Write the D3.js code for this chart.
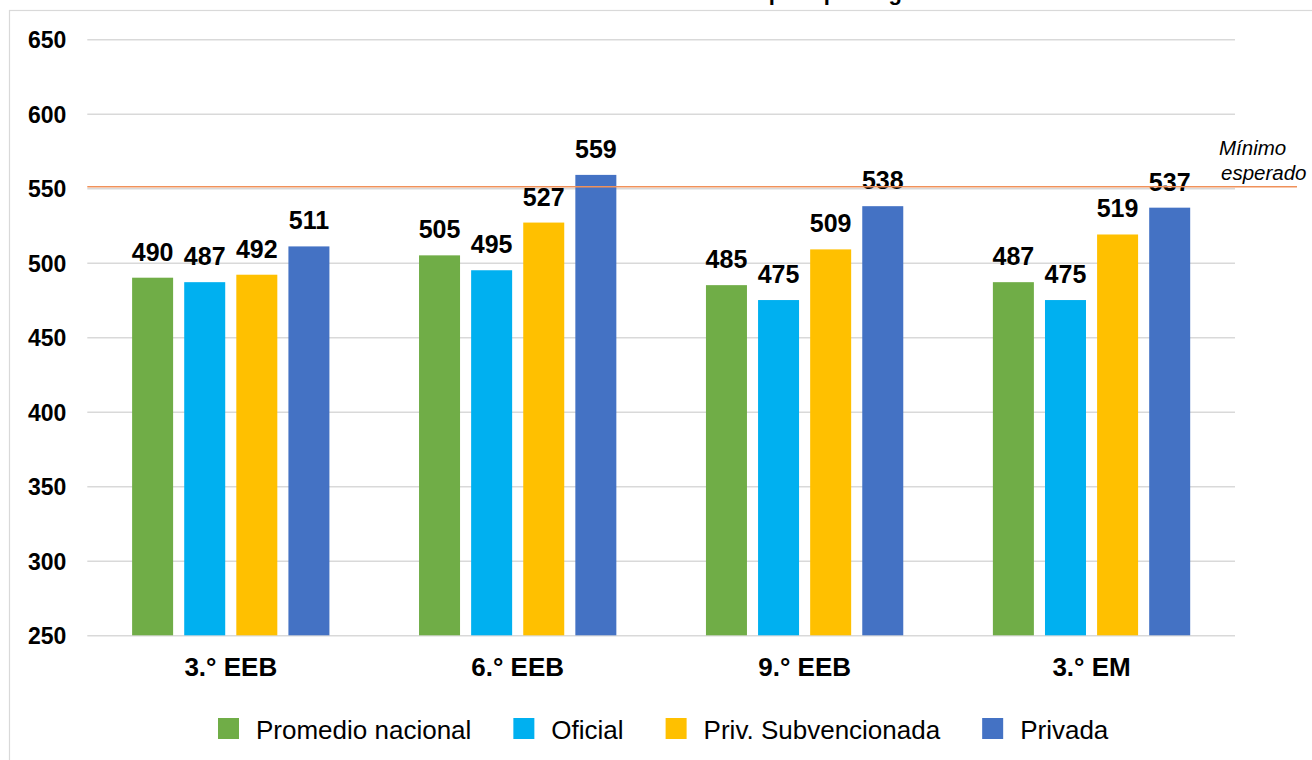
<!DOCTYPE html>
<html><head><meta charset="utf-8">
<script src="https://cdn.jsdelivr.net/npm/d3@7"></script>
<style>html,body{margin:0;padding:0;background:#fff;}svg{display:block;font-family:Arial,"Liberation Sans",sans-serif;}</style>
</head><body>
<svg id="chart" width="1312" height="760"></svg>
<script>
const title = "Resultados educativos de Matemática por tipo de gestión";
const categories = ["3.° EEB", "6.° EEB", "9.° EEB", "3.° EM"];
const seriesNames = ["Promedio nacional", "Oficial", "Priv. Subvencionada", "Privada"];
const seriesColors = ["#70AD47", "#00B0F0", "#FFC000", "#4472C4"];
const promedioNacional = [490, 505, 485, 487];
const oficial = [487, 495, 475, 475];
const privSubvencionada = [492, 527, 509, 519];
const privada = [511, 559, 538, 537];
const yTicks = [250, 300, 350, 400, 450, 500, 550, 600, 650];
const minimoEsperado = 551;
const minimoLabel = ["Mínimo", "esperado"];

const seriesValues = [promedioNacional, oficial, privSubvencionada, privada];
const data = categories.map((c, i) => ({cat: c, vals: seriesNames.map((s, j) => ({s, v: seriesValues[j][i], color: seriesColors[j]}))}));

const svg = d3.select("#chart");
const plotL = 87.3, plotR = 1235, plotT = 39.3, plotB = 635.3;

// frame
svg.append("rect").attr("x", 9.5).attr("y", 10.5).attr("width", 1400).attr("height", 900)
  .attr("fill", "none").attr("stroke", "#d9d9d9").attr("stroke-width", 1.2);

// title (cropped at the top edge, as in the reference)
svg.append("text").attr("x", 666).attr("y", 0).attr("text-anchor", "middle")
  .attr("font-weight", "bold").attr("font-size", 22).attr("fill", "#000").text(title);

const y = d3.scaleLinear().domain([250, 650]).range([plotB, plotT]);
const x0 = d3.scaleBand().domain(categories).range([plotL, plotR]).padding(0);
const x1 = d3.scaleBand().domain(seriesNames).range([0, x0.bandwidth()]).paddingInner(0.213).paddingOuter(0.86);

// gridlines
const yAxis = d3.axisLeft(y).tickValues(yTicks).tickSize(-(plotR - plotL)).tickFormat(d3.format("d"));
const gy = svg.append("g").attr("transform", `translate(${plotL},0)`).call(yAxis);
gy.select(".domain").remove();
gy.selectAll(".tick line").attr("stroke", "#d9d9d9").attr("stroke-width", 1.5);
gy.selectAll(".tick text").attr("x", -21).attr("dy", "0.36em").attr("font-size", 23)
  .attr("font-weight", "bold").attr("fill", "#000").attr("font-family", "Arial, 'Liberation Sans', sans-serif");

// bars
const groups = svg.append("g").selectAll("g").data(data).join("g")
  .attr("transform", d => `translate(${x0(d.cat)},0)`);
groups.selectAll("rect").data(d => d.vals).join("rect")
  .attr("x", d => x1(d.s)).attr("width", x1.bandwidth())
  .attr("y", d => y(d.v)).attr("height", d => y(250) - y(d.v))
  .attr("fill", d => d.color);
groups.selectAll("text").data(d => d.vals).join("text")
  .attr("x", d => x1(d.s) + x1.bandwidth() / 2).attr("y", d => y(d.v) - 17)
  .attr("text-anchor", "middle").attr("font-size", 25).attr("font-weight", "bold").attr("fill", "#000")
  .text(d => d.v);

// minimum line
svg.append("line").attr("x1", plotL).attr("x2", 1297).attr("y1", y(minimoEsperado)).attr("y2", y(minimoEsperado))
  .attr("stroke", "#F0915A").attr("stroke-width", 1.5);
const ml = svg.append("text").attr("font-style", "italic").attr("font-size", 20.5).attr("fill", "#000");
ml.append("tspan").attr("x", 1219).attr("y", 155).text(minimoLabel[0]);
ml.append("tspan").attr("x", 1221).attr("y", 180).text(minimoLabel[1]);

// category axis labels
const xAxis = d3.axisBottom(x0).tickSize(0).tickPadding(0);
const gx = svg.append("g").attr("transform", `translate(0,${plotB})`).call(xAxis);
gx.select(".domain").remove();
gx.selectAll(".tick text").attr("y", 41).attr("dy", 0).attr("font-size", 26).attr("font-weight", "bold")
  .attr("fill", "#000").attr("font-family", "Arial, 'Liberation Sans', sans-serif");

// legend
const leg = svg.append("g");
let lx = 218;
seriesNames.forEach((s, i) => {
  leg.append("rect").attr("x", lx).attr("y", 718).attr("width", 21).attr("height", 21).attr("fill", seriesColors[i]);
  const t = leg.append("text").attr("x", lx + 38).attr("y", 738.5).attr("font-size", 26).attr("fill", "#000").text(s);
  lx = lx + 38 + t.node().getComputedTextLength() + 42;
});
</script>
</body></html>
